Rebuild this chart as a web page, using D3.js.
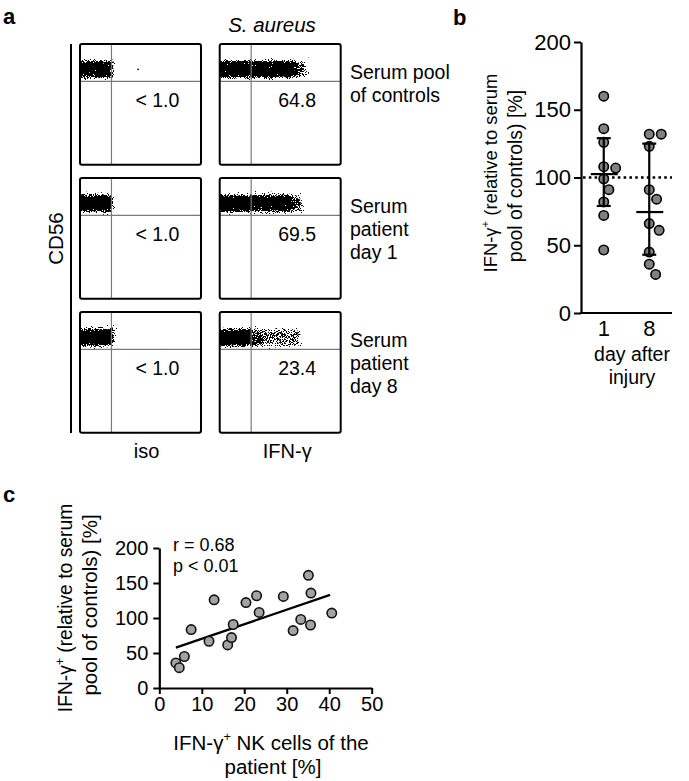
<!DOCTYPE html>
<html>
<head>
<meta charset="utf-8">
<script src="https://cdn.jsdelivr.net/npm/d3@7"></script>
<style>
  html, body { margin: 0; padding: 0; background: #fff; }
  svg { display: block; font-family: "Liberation Sans", Arial, sans-serif; }
</style>
</head>
<body>
<svg id="fig" width="689" height="781"></svg>
<script>
// ---------------- DATA ----------------
// Panel a: flow cytometry (CD56 vs iso / IFN-gamma)
const flowColumns = ["iso", "IFN-γ"];
const flowRowLabels = [["Serum pool", "of controls"], ["Serum", "patient", "day 1"], ["Serum", "patient", "day 8"]];
const isoValues = ["< 1.0", "< 1.0", "< 1.0"];
const ifnValues = ["64.8", "69.5", "23.4"];
// event clouds: [start, end, density] along the (log) fluorescence axis, fraction of the plot
const isoClouds = [[[0, 0.27, 1]], [[0, 0.27, 1]], [[0, 0.28, 1]]];
const ifnClouds = [
  [[0, 0.63, 1], [0.63, 0.72, 0.6]],
  [[0, 0.30, 1], [0.30, 0.36, 0.85], [0.36, 0.60, 1], [0.60, 0.68, 0.6]],
  [[0, 0.27, 1], [0.27, 0.36, 0.7], [0.36, 0.67, 0.52]]
];
const isoStray = [[0.48, 0.79], null, null];
const cd56Band = [0.72, 0.86];
const gateX = 0.26;
const gateY = 0.69;

// Panel b
const days = ["1", "8"];
const day1 = [160, 136, 126, 108, 107, 99, 91, 82, 72, 46.5];
const day8 = [132, 132, 123, 91, 84, 66, 61, 45, 36, 28.5];
const dayCenter = [102.5, 74.5];
const dayLow = [79, 43];
const dayHigh = [129, 125];
const bTicks = [0, 50, 100, 150, 200];
const refValue = 100;

// Panel c
const nkX = [3.9, 4.7, 5.9, 7.5, 11.7, 12.9, 16.1, 17.0, 17.4, 20.4, 22.9, 23.5, 29.2, 31.5, 33.3, 35.1, 35.7, 35.6, 40.6];
const nkY = [35.8, 29, 45, 83.5, 66.8, 126, 61.6, 72, 90.7, 122, 131.8, 108, 130.8, 82, 98, 161, 135.6, 90, 107];
const fitX = [3.9, 40.2];
const fitY = [57.7, 133];
const cXTicks = [0, 10, 20, 30, 40, 50];
const cYTicks = [0, 50, 100, 150, 200];
const corrText = ["r = 0.68", "p < 0.01"];

// ---------------- DRAW ----------------
const svg = d3.select("#fig");
const FA = 19.5;   // panel a text
const FB = 19.5;   // panel b labels
const FC = 20.5;   // panel c labels

function addSup(textSel, before, sup, after, fs) {
  textSel.append("tspan").text(before);
  textSel.append("tspan").attr("dy", -fs * 0.42).attr("font-size", fs * 0.62).text(sup);
  textSel.append("tspan").attr("dy", fs * 0.42).text(after);
}

// filter for event-cloud speckle
const defs = svg.append("defs");
const f = defs.append("filter").attr("id", "speckle")
  .attr("filterUnits", "userSpaceOnUse").attr("x", 0).attr("y", 0).attr("width", 689).attr("height", 781)
  .attr("color-interpolation-filters", "sRGB");
f.append("feGaussianBlur").attr("in", "SourceAlpha").attr("stdDeviation", 2.2).attr("result", "soft");
f.append("feTurbulence").attr("type", "fractalNoise").attr("baseFrequency", 0.95).attr("numOctaves", 2).attr("seed", 7).attr("result", "noise");
f.append("feColorMatrix").attr("in", "noise").attr("type", "matrix")
  .attr("values", "0 0 0 0 0  0 0 0 0 0  0 0 0 0 0  1.7 0 0 0 -0.35").attr("result", "na");
f.append("feComposite").attr("in", "soft").attr("in2", "na").attr("operator", "arithmetic")
  .attr("k1", 0).attr("k2", 1).attr("k3", -1).attr("k4", 0).attr("result", "diff");
const ct = f.append("feComponentTransfer").attr("in", "diff").attr("result", "bin");
ct.append("feFuncA").attr("type", "linear").attr("slope", 40).attr("intercept", 0);
f.append("feFlood").attr("flood-color", "#000").attr("result", "blk");
f.append("feComposite").attr("in", "blk").attr("in2", "bin").attr("operator", "in");

// ---- panel labels ----
svg.append("text").attr("x", 3).attr("y", 24).attr("font-size", 22).attr("font-weight", "bold").text("a");
svg.append("text").attr("x", 453).attr("y", 25).attr("font-size", 22).attr("font-weight", "bold").text("b");
svg.append("text").attr("x", 3).attr("y", 502).attr("font-size", 22).attr("font-weight", "bold").text("c");

// ---- Panel a ----
const colScale = d3.scaleBand().domain(flowColumns).range([80, 340.7]).paddingInner(0.134);
const rowScale = d3.scaleBand().domain(d3.range(3)).range([44, 432.7]).paddingInner(0.1);
const bw = colScale.bandwidth(), bh = rowScale.bandwidth();

svg.append("text").attr("x", 272).attr("y", 32).attr("text-anchor", "middle")
  .attr("font-size", 20.5).attr("font-style", "italic").text("S. aureus");

svg.append("line").attr("x1", 71).attr("x2", 71).attr("y1", 44).attr("y2", 433)
  .attr("stroke", "#000").attr("stroke-width", 2);
svg.append("text").attr("transform", `translate(63,${(44 + 433) / 2}) rotate(-90)`)
  .attr("text-anchor", "middle").attr("font-size", 20.5).text("CD56");

flowColumns.forEach((col, ci) => {
  const x0 = colScale(col);
  svg.append("text").attr("x", x0 + bw / 2 + (ci === 0 ? 6 : 7)).attr("y", 458)
    .attr("text-anchor", "middle").attr("font-size", 20).text(col);
  d3.range(3).forEach(ri => {
    const y0 = rowScale(ri);
    const ix = d3.scaleLinear().domain([0, 1]).range([x0, x0 + bw]);
    const iy = d3.scaleLinear().domain([0, 1]).range([y0 + bh, y0]);
    const clipId = `clip${ci}${ri}`;
    defs.append("clipPath").attr("id", clipId).append("rect")
      .attr("x", x0).attr("y", y0).attr("width", bw).attr("height", bh);
    const g = svg.append("g").attr("clip-path", `url(#${clipId})`);
    const cg = g.append("g").attr("filter", "url(#speckle)");
    const clouds = ci === 0 ? isoClouds[ri] : ifnClouds[ri];
    cg.selectAll("rect").data(clouds).join("rect")
      .attr("x", d => ix(d[0]) - (d[0] === 0 ? 3 : 0))
      .attr("width", d => ix(d[1]) - ix(d[0]) + (d[0] === 0 ? 3 : 0))
      .attr("y", iy(cd56Band[1])).attr("height", iy(cd56Band[0]) - iy(cd56Band[1]))
      .attr("fill", "#000").attr("fill-opacity", d => d[2]);
    if (ci === 0 && isoStray[ri]) {
      g.append("circle").attr("cx", ix(isoStray[ri][0])).attr("cy", iy(isoStray[ri][1])).attr("r", 0.9).attr("fill", "#000");
    }
    // gates
    g.append("line").attr("x1", ix(gateX)).attr("x2", ix(gateX)).attr("y1", y0).attr("y2", y0 + bh)
      .attr("stroke", "#7a7a7a").attr("stroke-width", 1.2);
    g.append("line").attr("x1", x0).attr("x2", x0 + bw).attr("y1", iy(gateY)).attr("y2", iy(gateY))
      .attr("stroke", "#7a7a7a").attr("stroke-width", 1.2);
    // frame
    svg.append("rect").attr("x", x0).attr("y", y0).attr("width", bw).attr("height", bh)
      .attr("rx", 2).attr("fill", "none").attr("stroke", "#000").attr("stroke-width", 2);
    // percentage
    svg.append("text").attr("x", ix(0.64)).attr("y", iy(0.48)).attr("text-anchor", "middle")
      .attr("font-size", FA).text(ci === 0 ? isoValues[ri] : ifnValues[ri]);
    if (ci === 1) {
      svg.append("g").selectAll("text").data(flowRowLabels[ri]).join("text")
        .attr("x", 350).attr("y", (d, k) => y0 + 35 + k * 23)
        .attr("font-size", FA).text(d => d);
    }
  });
});

// ---- Panel b ----
const yB = d3.scaleLinear().domain([0, 200]).range([313, 42]);
const xB = d3.scalePoint().domain(days).range([581, 672]).padding(0.5);

const axB = svg.append("g").attr("transform", "translate(581,0)")
  .call(d3.axisLeft(yB).tickValues(bTicks).tickSize(7).tickSizeOuter(0).tickPadding(3));
axB.select(".domain").attr("stroke-width", 2.2);
axB.selectAll(".tick line").attr("stroke-width", 2);
axB.selectAll(".tick text").attr("font-size", 22).attr("font-family", "Liberation Sans, Arial, sans-serif").attr("fill", "#000");
svg.append("line").attr("x1", 580).attr("x2", 672).attr("y1", yB(0)).attr("y2", yB(0))
  .attr("stroke", "#000").attr("stroke-width", 2.2);
svg.append("g").selectAll("text").data(days).join("text")
  .attr("x", d => xB(d)).attr("y", 336).attr("text-anchor", "middle").attr("font-size", 22).text(d => d);
svg.append("text").attr("x", 632).attr("y", 361).attr("text-anchor", "middle").attr("font-size", FB).text("day after");
svg.append("text").attr("x", 632).attr("y", 384).attr("text-anchor", "middle").attr("font-size", FB).text("injury");

const bl1 = svg.append("text").attr("transform", "translate(497,173) rotate(-90)").attr("text-anchor", "middle").attr("font-size", 18.4);
addSup(bl1, "IFN-γ", "+", " (relative to serum", 18.4);
svg.append("text").attr("transform", "translate(522,176) rotate(-90)").attr("text-anchor", "middle")
  .attr("font-size", FB).text("pool of controls) [%]");

// dotted reference line
svg.append("line").attr("x1", 583).attr("x2", 672).attr("y1", yB(refValue)).attr("y2", yB(refValue))
  .attr("stroke", "#000").attr("stroke-width", 2.6).attr("stroke-dasharray", "2.6,3.2");

function swarm(values, cx, y, D) {
  const order = d3.range(values.length).sort((a, b) => values[b] - values[a]);
  const placed = [], xs = new Array(values.length);
  for (const i of order) {
    const yi = y(values[i]);
    const cands = [0];
    for (const p of placed) {
      const dy = Math.abs(p.y - yi);
      if (dy < D) { const dx = Math.sqrt(D * D - dy * dy); cands.push(p.x + dx, p.x - dx); }
    }
    cands.sort((a, b) => Math.abs(a) - Math.abs(b));
    let best = 0;
    for (const c of cands) {
      if (placed.every(p => (p.x - c) ** 2 + (p.y - yi) ** 2 >= D * D - 0.01)) { best = c; break; }
    }
    xs[i] = cx + best; placed.push({ x: best, y: yi });
  }
  return xs;
}

[day1, day8].forEach((vals, k) => {
  const cx = xB(days[k]);
  const xs = swarm(vals, cx, yB, 12);
  svg.append("g").selectAll("circle").data(vals).join("circle")
    .attr("cx", (d, i) => xs[i]).attr("cy", d => yB(d)).attr("r", 4.7)
    .attr("fill", "#808080").attr("stroke", "#000").attr("stroke-width", 1.6);
  const g = svg.append("g").attr("stroke", "#000").attr("stroke-width", 2.2);
  g.append("line").attr("x1", cx).attr("x2", cx).attr("y1", yB(dayLow[k])).attr("y2", yB(dayHigh[k]));
  g.append("line").attr("x1", cx - 7).attr("x2", cx + 7).attr("y1", yB(dayLow[k])).attr("y2", yB(dayLow[k]));
  g.append("line").attr("x1", cx - 7).attr("x2", cx + 7).attr("y1", yB(dayHigh[k])).attr("y2", yB(dayHigh[k]));
  g.append("line").attr("x1", cx - 13).attr("x2", cx + 14).attr("y1", yB(dayCenter[k])).attr("y2", yB(dayCenter[k]));
});

// ---- Panel c ----
const xC = d3.scaleLinear().domain([0, 50]).range([159.3, 371.7]);
const yC = d3.scaleLinear().domain([0, 200]).range([688, 548]);

const axCy = svg.append("g").attr("transform", `translate(${xC(0)},0)`)
  .call(d3.axisLeft(yC).tickValues(cYTicks).tickSize(6).tickSizeOuter(0).tickPadding(5));
const axCx = svg.append("g").attr("transform", `translate(0,${yC(0)})`)
  .call(d3.axisBottom(xC).tickValues(cXTicks).tickSize(6).tickSizeOuter(0).tickPadding(3));
[axCy, axCx].forEach(a => {
  a.select(".domain").attr("stroke-width", 2.2);
  a.selectAll(".tick line").attr("stroke-width", 2);
  a.selectAll(".tick text").attr("font-size", 20).attr("font-family", "Liberation Sans, Arial, sans-serif").attr("fill", "#000");
});

svg.append("g").selectAll("text").data(corrText).join("text")
  .attr("x", 173).attr("y", (d, i) => 551 + i * 21).attr("font-size", 18).text(d => d);

svg.append("line").attr("x1", xC(fitX[0])).attr("x2", xC(fitX[1])).attr("y1", yC(fitY[0])).attr("y2", yC(fitY[1]))
  .attr("stroke", "#000").attr("stroke-width", 2.2);

svg.append("g").selectAll("circle").data(nkX).join("circle")
  .attr("cx", d => xC(d)).attr("cy", (d, i) => yC(nkY[i])).attr("r", 4.7)
  .attr("fill", "#a3a3a3").attr("stroke", "#111").attr("stroke-width", 1.6);

const cl1 = svg.append("text").attr("transform", "translate(72,608) rotate(-90)").attr("text-anchor", "middle").attr("font-size", 19.3);
addSup(cl1, "IFN-γ", "+", " (relative to serum", 19.3);
svg.append("text").attr("transform", "translate(97,605) rotate(-90)").attr("text-anchor", "middle")
  .attr("font-size", FC).text("pool of controls) [%]");

const cx1 = svg.append("text").attr("x", 271).attr("y", 750).attr("text-anchor", "middle").attr("font-size", FC);
addSup(cx1, "IFN-γ", "+", " NK cells of the", FC);
svg.append("text").attr("x", 273).attr("y", 774).attr("text-anchor", "middle").attr("font-size", FC).text("patient [%]");
</script>
</body>
</html>
